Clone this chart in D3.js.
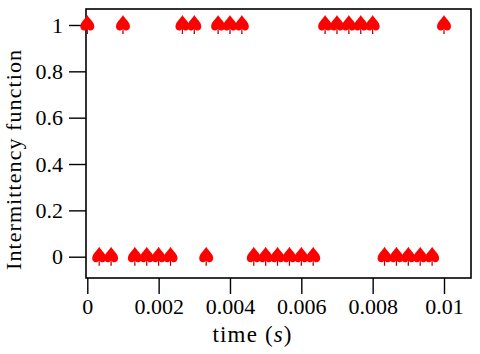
<!DOCTYPE html>
<html><head><meta charset="utf-8">
<script src="https://cdn.jsdelivr.net/npm/d3@7"></script>
<style>
html,body{margin:0;padding:0;background:#fff;}
svg{display:block;}
</style></head>
<body>
<svg id="chart" width="480" height="354" font-family="Liberation Serif, serif"></svg>
<script>
const times = [0, 0.000333, 0.000667, 0.001, 0.001333, 0.001667, 0.002, 0.002333, 0.002667, 0.003,
  0.003333, 0.003667, 0.004, 0.004333, 0.004667, 0.005, 0.005333, 0.005667, 0.006, 0.006333,
  0.006667, 0.007, 0.007333, 0.007667, 0.008, 0.008333, 0.008667, 0.009, 0.009333, 0.009667, 0.01];
const intermittency = [1, 0, 0, 1, 0, 0, 0, 0, 1, 1,
  0, 1, 1, 1, 0, 0, 0, 0, 0, 0,
  1, 1, 1, 1, 1, 0, 0, 0, 0, 0, 1];
const xTicks = [0, 0.002, 0.004, 0.006, 0.008, 0.01];
const xTickLabels = ["0", "0.002", "0.004", "0.006", "0.008", "0.01"];
const yTicks = [0, 0.2, 0.4, 0.6, 0.8, 1];
const yTickLabels = ["0", "0.2", "0.4", "0.6", "0.8", "1"];
const xTitle = "time (", xTitleVar = "s", xTitleEnd = ")";
const yTitle = "Intermittency function";

const FONT = "Liberation Serif";
const L = 86, R = 471, T = 9, B = 278;
const svg = d3.select("#chart");
const x = d3.scaleLinear().domain([-0.0000364, 0.010757]).range([L, R]);
const y = d3.scaleLinear().domain([-0.0919, 1.069]).range([B, T]);

// frame
svg.append("rect").attr("x", L).attr("y", T).attr("width", R - L).attr("height", B - T)
  .attr("fill", "none").attr("stroke", "#000").attr("stroke-width", 1.6);

const xAxis = d3.axisBottom(x).tickValues(xTicks).tickSize(16).tickPadding(4)
  .tickFormat((d, i) => xTickLabels[i]);
const gx = svg.append("g").attr("transform", `translate(0,${B})`).call(xAxis);
gx.select(".domain").remove();
gx.selectAll(".tick line").attr("stroke", "#000").attr("stroke-width", 1.4);
gx.selectAll(".tick text").attr("fill", "#000").attr("font-family", FONT).attr("font-size", 22);

const yAxis = d3.axisLeft(y).tickValues(yTicks).tickSize(17).tickPadding(6)
  .tickFormat((d, i) => yTickLabels[i]);
const gy = svg.append("g").attr("transform", `translate(${L},0)`).call(yAxis);
gy.select(".domain").remove();
gy.selectAll(".tick line").attr("stroke", "#000").attr("stroke-width", 1.4);
gy.selectAll(".tick text").attr("fill", "#000").attr("font-family", FONT).attr("font-size", 22);

// titles
const xt = svg.append("text").attr("x", 252).attr("y", 342).attr("text-anchor", "middle")
  .attr("font-family", FONT).attr("font-size", 23)
  .attr("textLength", 79).attr("lengthAdjust", "spacing");
xt.append("tspan").text(xTitle);
xt.append("tspan").attr("font-style", "italic").text(xTitleVar);
xt.append("tspan").text(xTitleEnd);

svg.append("text").attr("transform", "translate(21,160) rotate(-90)")
  .attr("text-anchor", "middle").attr("font-family", FONT).attr("font-size", 22)
  .attr("textLength", 220).attr("lengthAdjust", "spacing").text(yTitle);

// spade markers
const spadeBody = "M0,-10 C-2,-6 -7,-3 -7,1.5 C-7,4.5 -4.5,6 -2.5,5.5 C-1.5,5.2 -0.5,4.5 0,3.5 C0.5,4.5 1.5,5.2 2.5,5.5 C4.5,6 7,4.5 7,1.5 C7,-3 2,-6 0,-10 Z";
const spadeStem = "M-0.5,3 L0.5,3 L0.7,9 L-0.7,9 Z";
const data = times.map((t, i) => ({t, v: intermittency[i]}));
const g = svg.append("g").selectAll("g").data(data).join("g")
  .attr("transform", d => `translate(${x(d.t)},${y(d.v)})`);
g.append("path").attr("d", spadeStem).attr("fill", "#b00000");
g.append("path").attr("d", spadeBody).attr("fill", "#ff0000");
</script>
</body></html>
